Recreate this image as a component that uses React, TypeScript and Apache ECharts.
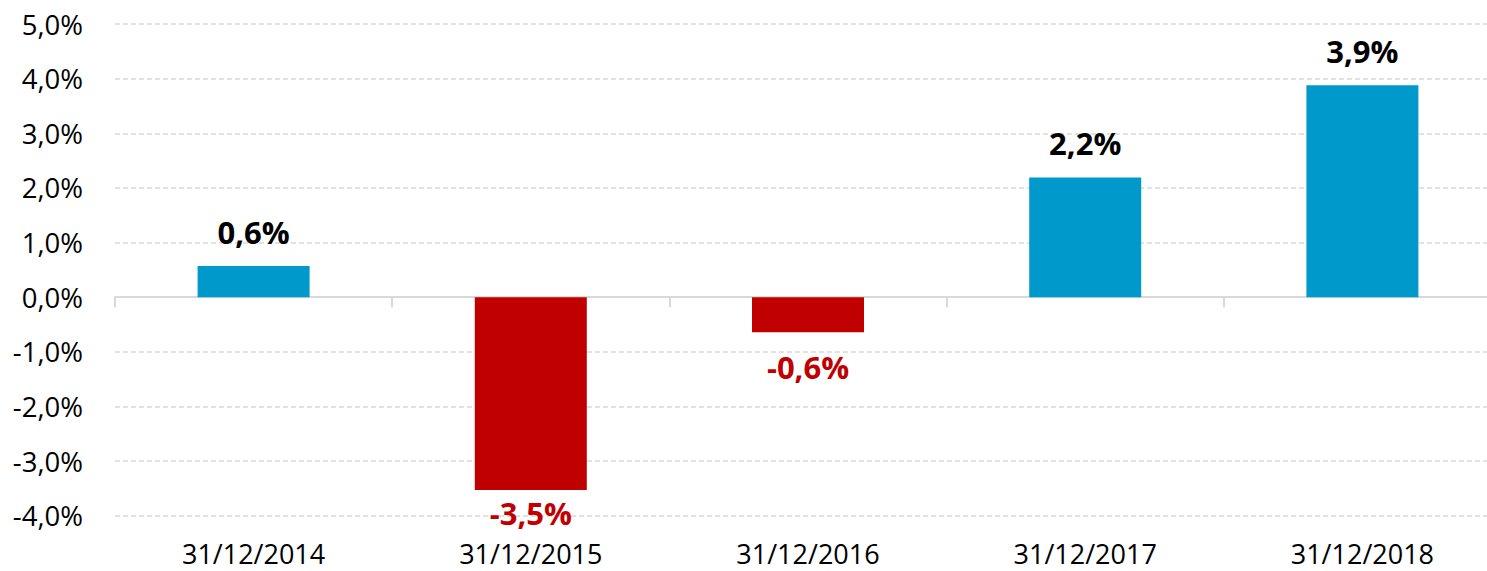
import React, { useEffect, useRef } from "react";
import * as echarts from "echarts";

const categories = ["31/12/2014", "31/12/2015", "31/12/2016", "31/12/2017", "31/12/2018"];
const values = [0.57, -3.53, -0.64, 2.19, 3.88];
const labels = ["0,6%", "-3,5%", "-0,6%", "2,2%", "3,9%"];
const labelGaps = [19, 7, 19, 19, 19];

const BLUE = "#0099CC";
const RED = "#C00000";
const FONT = "'Open Sans', sans-serif";

export default function App() {
  const ref = useRef<HTMLDivElement>(null);
  useEffect(() => {
    document.body.style.margin = "0";
    document.body.style.overflow = "hidden";
    const chart = echarts.init(ref.current!, null, { renderer: "svg" });
    chart.setOption({
      animation: false,
      grid: { left: 115, top: 24, width: 1386, height: 491.7 },
      xAxis: [
        {
          type: "category",
          data: categories,
          axisLine: { onZero: true, lineStyle: { color: "#d9d9d9", width: 2 } },
          axisTick: { show: true, alignWithLabel: false, length: 10, lineStyle: { color: "#d9d9d9", width: 2 } },
          axisLabel: { show: false },
        },
        {
          type: "category",
          data: categories,
          position: "bottom",
          axisLine: { show: false, onZero: false },
          axisTick: { show: false },
          axisLabel: { show: true, fontFamily: FONT, fontSize: 27, color: "#000", margin: 24, lineHeight: 27 },
        },
      ],
      yAxis: {
        type: "value",
        min: -4,
        max: 5,
        interval: 1,
        axisLine: { show: false },
        axisTick: { show: false },
        axisLabel: {
          fontFamily: FONT,
          fontSize: 27.5,
          color: "#000",
          margin: 32,
          formatter: (v: number) => v.toFixed(1).replace(".", ",") + "%",
        },
        splitLine: { show: true, lineStyle: { color: "#d9d9d9", width: 1.5, type: [5, 3] } },
      },
      series: [
        {
          type: "bar",
          xAxisIndex: 0,
          barWidth: 112,
          data: values.map((v, i) => ({
            value: v,
            itemStyle: { color: v >= 0 ? BLUE : RED },
            label: {
              show: true,
              position: v >= 0 ? "top" : "bottom",
              distance: labelGaps[i],
              formatter: () => labels[i],
              fontFamily: FONT,
              fontWeight: "bold",
              fontSize: 31,
              color: v >= 0 ? "#000" : RED,
            },
          })),
        },
      ],
    });
    return () => chart.dispose();
  }, []);
  return <div ref={ref} style={{ width: 1510, height: 571 }} />;
}
